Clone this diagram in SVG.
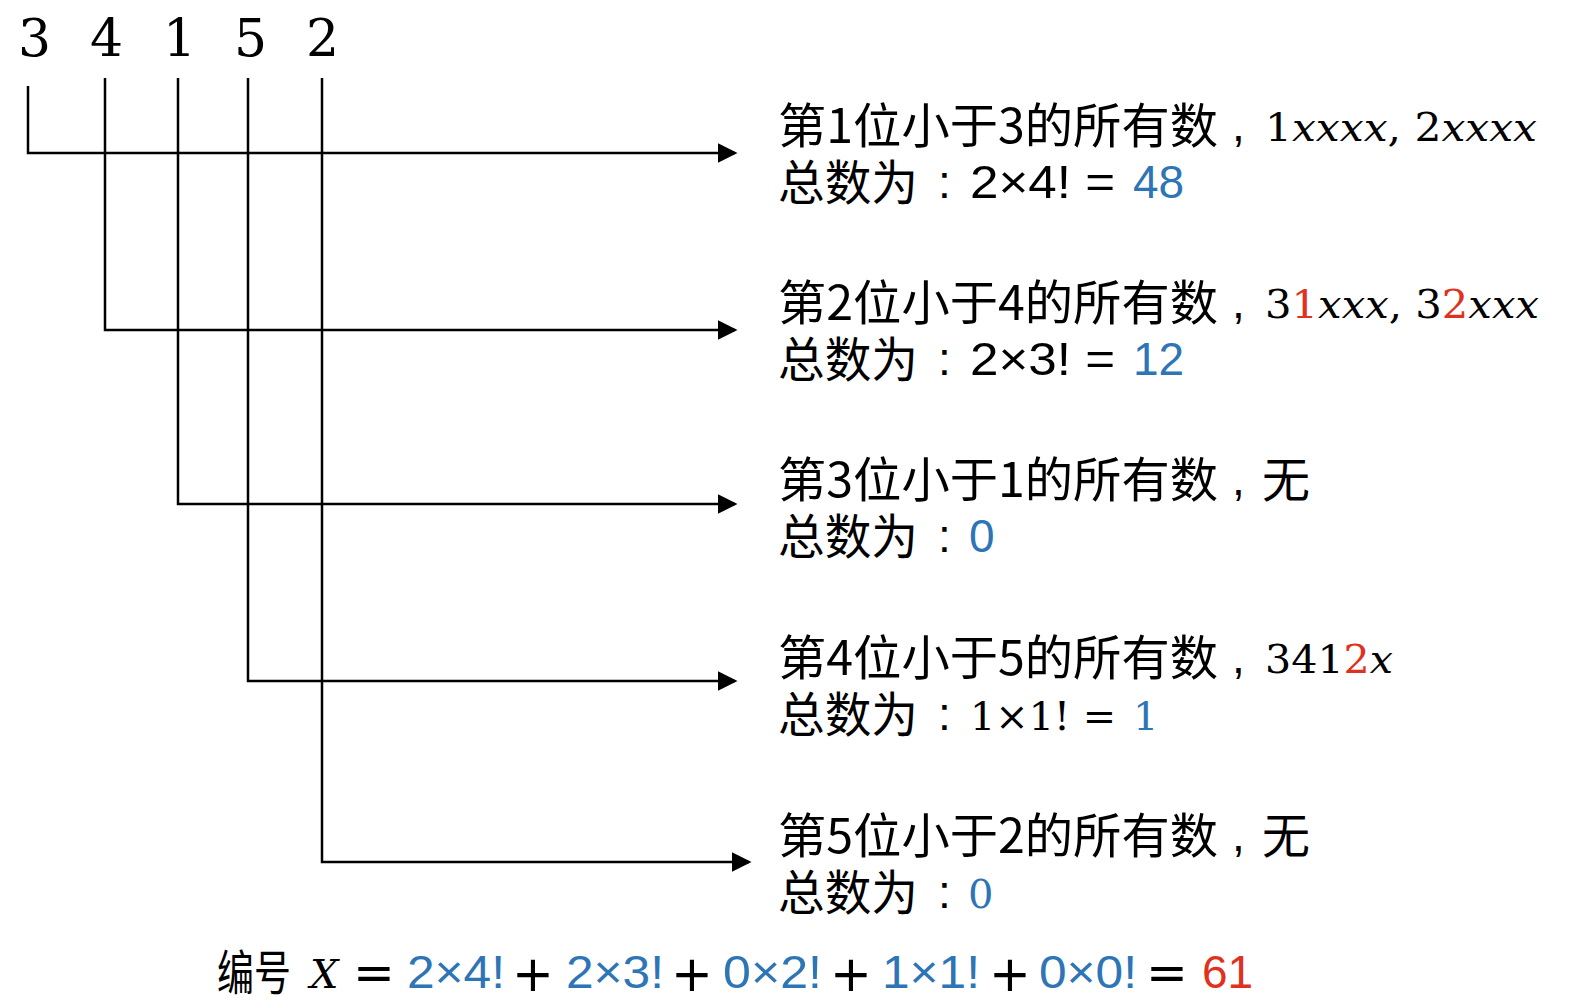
<svg xmlns="http://www.w3.org/2000/svg" width="1574" height="1006" viewBox="0 0 1574 1006">
<style>
.ln{stroke:#000;stroke-width:2.5;fill:none}
.cn{font-family:"Noto Sans CJK SC","Liberation Sans",sans-serif;font-size:48px;fill:#000}
.sn{font-family:"Liberation Sans","Noto Sans CJK SC",sans-serif;font-size:46px;fill:#000}
.op{font-family:"DejaVu Sans","Liberation Sans",sans-serif;font-size:50px;fill:#000;text-anchor:middle}
.mt{font-family:"DejaVu Serif","Liberation Serif",serif;font-size:40px;fill:#000}
.it{font-style:italic}
.dg{font-family:"DejaVu Serif","Liberation Serif",serif;font-size:52px;fill:#000}
.b{fill:#2E75B6}
.r{fill:#E0301E}
</style>
<defs>
<marker id="ah" markerWidth="8" markerHeight="8" refX="7" refY="4" orient="auto" markerUnits="strokeWidth">
<path d="M0,0 L8,4 L0,8 Z" fill="#000"/>
</marker>
</defs>
<g id="digits">
<text class="dg" x="18" y="56">3</text>
<text class="dg" x="90" y="56">4</text>
<text class="dg" x="163" y="56">1</text>
<text class="dg" x="234" y="56">5</text>
<text class="dg" x="306" y="56">2</text>
</g>
<g id="connectors">
<path class="ln" d="M28,86 V153 H735" marker-end="url(#ah)"/>
<path class="ln" d="M105,78 V330 H735" marker-end="url(#ah)"/>
<path class="ln" d="M178,78 V504 H735" marker-end="url(#ah)"/>
<path class="ln" d="M248,78 V681 H735" marker-end="url(#ah)"/>
<path class="ln" d="M322,78 V862 H749" marker-end="url(#ah)"/>
</g>
<g id="row1">
<text class="cn" x="778" y="143" textLength="440" lengthAdjust="spacingAndGlyphs">第1位小于3的所有数</text>
<text class="sn" x="1232" y="141">,</text>
<text class="mt" x="1265" y="141" textLength="272" lengthAdjust="spacingAndGlyphs">1<tspan class="it">xxxx</tspan>, 2<tspan class="it">xxxx</tspan></text>
<text class="cn" x="778" y="200" textLength="140" lengthAdjust="spacingAndGlyphs">总数为</text>
<text class="sn" x="938" y="198">:</text>
<text class="sn" x="970" y="198" textLength="145" lengthAdjust="spacingAndGlyphs">2×4! =</text>
<text class="sn b" x="1133" y="198">48</text>
</g>
<g id="row2">
<text class="cn" x="778" y="320" textLength="440" lengthAdjust="spacingAndGlyphs">第2位小于4的所有数</text>
<text class="sn" x="1232" y="318">,</text>
<text class="mt" x="1265" y="318" textLength="274" lengthAdjust="spacingAndGlyphs">3<tspan class="r">1</tspan><tspan class="it">xxx</tspan>, 3<tspan class="r">2</tspan><tspan class="it">xxx</tspan></text>
<text class="cn" x="778" y="377" textLength="140" lengthAdjust="spacingAndGlyphs">总数为</text>
<text class="sn" x="938" y="375">:</text>
<text class="sn" x="970" y="375" textLength="145" lengthAdjust="spacingAndGlyphs">2×3! =</text>
<text class="sn b" x="1133" y="375">12</text>
</g>
<g id="row3">
<text class="cn" x="778" y="497" textLength="440" lengthAdjust="spacingAndGlyphs">第3位小于1的所有数</text>
<text class="sn" x="1232" y="495">,</text>
<text class="cn" x="1262" y="497">无</text>
<text class="cn" x="778" y="554" textLength="140" lengthAdjust="spacingAndGlyphs">总数为</text>
<text class="sn" x="938" y="552">:</text>
<text class="sn b" x="969" y="552">0</text>
</g>
<g id="row4">
<text class="cn" x="778" y="675" textLength="440" lengthAdjust="spacingAndGlyphs">第4位小于5的所有数</text>
<text class="sn" x="1232" y="673">,</text>
<text class="mt" x="1265" y="673" textLength="128" lengthAdjust="spacingAndGlyphs">341<tspan class="r">2</tspan><tspan class="it">x</tspan></text>
<text class="cn" x="778" y="732" textLength="140" lengthAdjust="spacingAndGlyphs">总数为</text>
<text class="sn" x="938" y="730">:</text>
<text class="mt" x="970" y="730" textLength="146" lengthAdjust="spacingAndGlyphs">1×1! =</text>
<text class="mt b" x="1133" y="730">1</text>
</g>
<g id="row5">
<text class="cn" x="778" y="853" textLength="440" lengthAdjust="spacingAndGlyphs">第5位小于2的所有数</text>
<text class="sn" x="1232" y="851">,</text>
<text class="cn" x="1262" y="853">无</text>
<text class="cn" x="778" y="910" textLength="140" lengthAdjust="spacingAndGlyphs">总数为</text>
<text class="sn" x="938" y="908">:</text>
<text class="mt b" x="968" y="908">0</text>
</g>
<g id="formula">
<text class="cn" x="217" y="990" textLength="74" lengthAdjust="spacingAndGlyphs">编号</text>
<text class="mt it" x="310" y="988">X</text>
<text class="op" x="374" y="990">=</text>
<text class="sn b" x="407" y="988" textLength="98" lengthAdjust="spacingAndGlyphs">2×4!</text>
<text class="op" x="533" y="991">+</text>
<text class="sn b" x="566" y="988" textLength="98" lengthAdjust="spacingAndGlyphs">2×3!</text>
<text class="op" x="692" y="991">+</text>
<text class="sn b" x="723" y="988" textLength="99" lengthAdjust="spacingAndGlyphs">0×2!</text>
<text class="op" x="851" y="991">+</text>
<text class="sn b" x="882" y="988" textLength="98" lengthAdjust="spacingAndGlyphs">1×1!</text>
<text class="op" x="1010" y="991">+</text>
<text class="sn b" x="1039" y="988" textLength="98" lengthAdjust="spacingAndGlyphs">0×0!</text>
<text class="op" x="1167" y="990">=</text>
<text class="sn r" x="1202" y="988">61</text>
</g>
</svg>
